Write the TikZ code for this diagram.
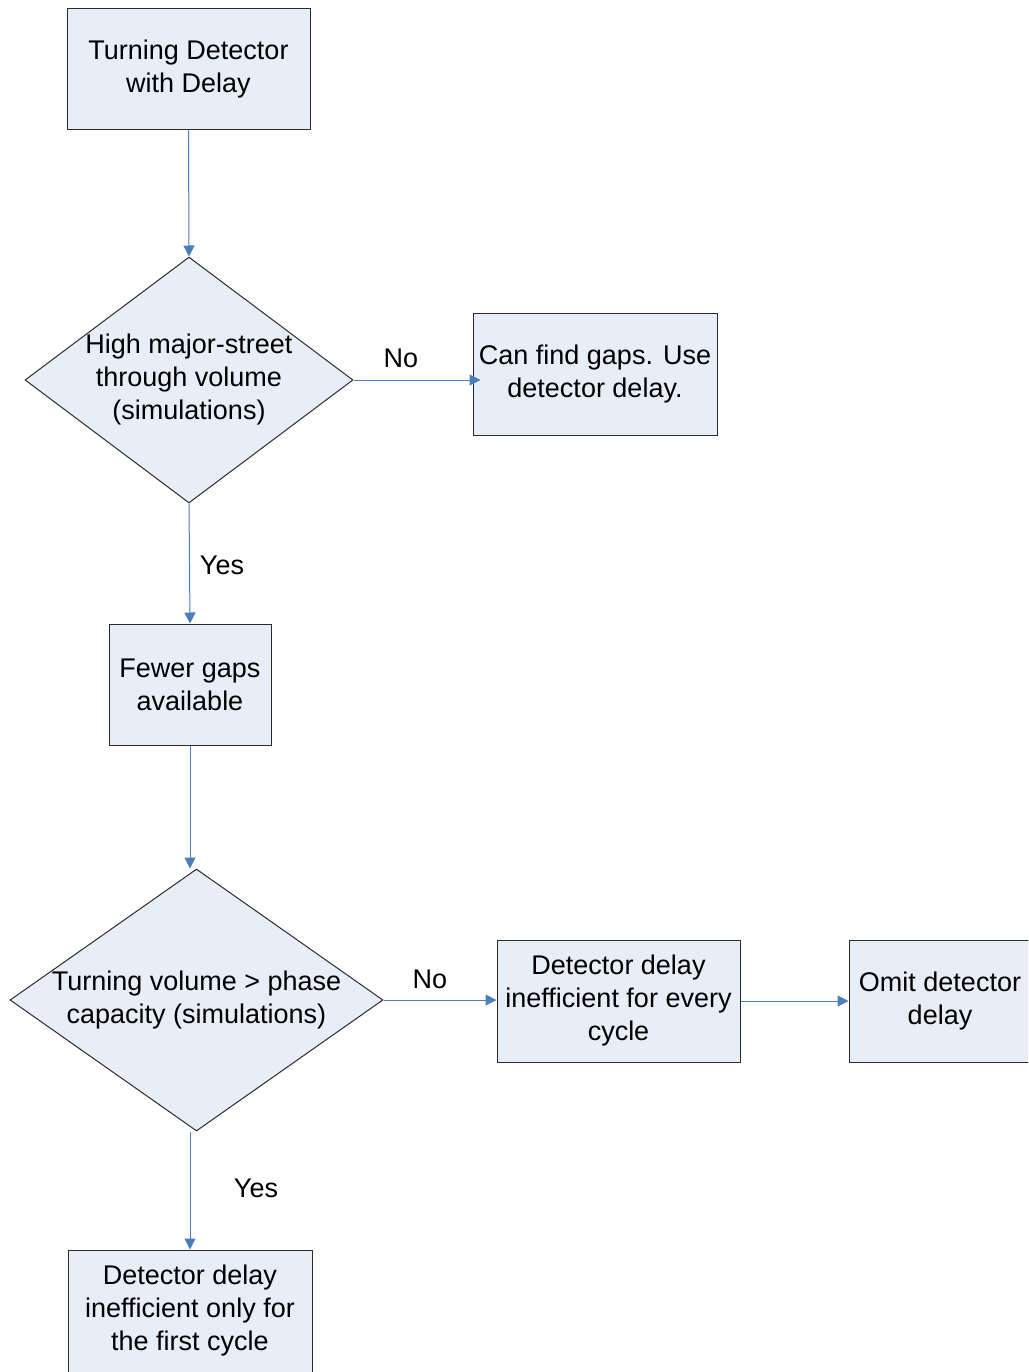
\documentclass[tikz,border=0pt]{standalone}
\usepackage{fontspec}
\setmainfont{Liberation Sans}
\usetikzlibrary{shapes.geometric,arrows.meta}
\definecolor{boxfill}{HTML}{E8EEF7}
\definecolor{arrowc}{HTML}{4A7EBB}
\definecolor{edgec}{HTML}{2B2B2B}
\begin{document}
\begin{tikzpicture}[x=1pt,y=-1pt,
  txt/.style={font=\fontsize{27}{33}\selectfont, align=center, inner sep=0pt},
  box/.style={txt, draw=edgec, fill=boxfill, line width=1pt, minimum width=243pt, minimum height=121pt},
  dia/.style={diamond, draw=edgec, fill=boxfill, line width=1pt, inner sep=0pt},
  arr/.style={draw=arrowc, line width=1pt, -{Triangle[length=11pt,width=11pt]}},
  lbl/.style={font=\fontsize{27}{33}\selectfont, inner sep=0pt, anchor=base}]
\useasboundingbox (0,0) rectangle (1028,1372);
\clip (0,0) rectangle (1028,1372);
\node[box] (b1) at (188.5,69.5) {Turning Detector\\with Delay};
\node[dia, minimum width=328pt, minimum height=246pt] (d1) at (189,380) {};
\node[txt] (d1t) at (189,380) {High major-street\\through volume\\(simulations)};
\node[box, minimum width=244pt, minimum height=122pt] (b3) at (595,374) {Can find gaps. Use\\detector delay.};
\node[box, minimum width=162pt] (b4) at (190,684.5) {Fewer gaps\\available};
\node[dia, minimum width=373pt, minimum height=262pt] (d2) at (196.5,1000) {};
\node[txt] (d2t) at (196.5,1000) {Turning volume > phase\\capacity (simulations)};
\node[box, minimum height=122pt] (b6) at (618.5,1001) {Detector delay\\inefficient for every\\cycle};
\node[box, minimum width=182pt, minimum height=122pt] (b7) at (940,1001) {Omit detector\\delay};
\node[box, minimum width=244pt, minimum height=122pt] (b8) at (190,1311) {Detector delay\\inefficient only for\\the first cycle};
\draw[arr] (b1.south) -- (d1.north);
\draw[arr] (d1.east) -- ([xshift=8pt]b3.west |- d1.east);
\draw[arr] (d1.south) -- (b4.north);
\draw[arr] (b4.south) -- (b4.south |- d2.north);
\draw[arr] (d2.east) -- (d2.east -| b6.west);
\draw[arr] (b6.east) -- (b7.west);
\draw[arr] (d2.south -| b8.north) -- (b8.north);
\node[lbl] (no1) at (401,367.5) {No};
\node[lbl] (yes1) at (222,574.5) {Yes};
\node[lbl] (no2) at (430,988.5) {No};
\node[lbl] (yes2) at (256,1197.5) {Yes};
\end{tikzpicture}
\end{document}
